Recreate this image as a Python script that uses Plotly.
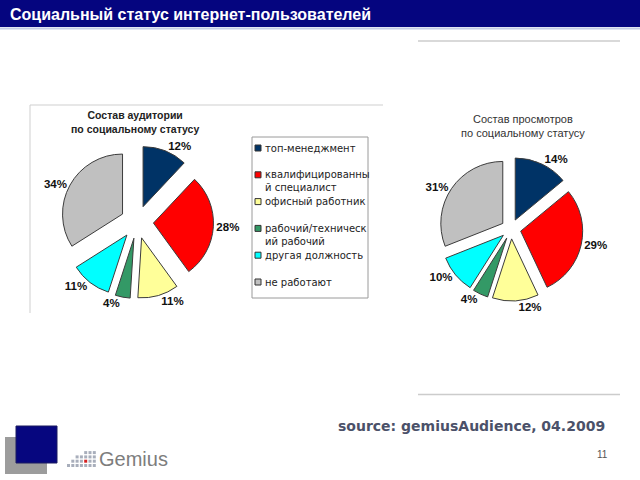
import plotly.graph_objects as go

W, H = 640, 480

# ---------------- data ----------------
categories = ["топ-менеджмент", "квалифицированный специалист", "офисный работник",
              "рабочий/технический рабочий", "другая должность", "не работают"]
legend_labels = ["топ-менеджмент", "квалифицированны<br>й специалист", "офисный работник",
                 "рабочий/техническ<br>ий рабочий", "другая должность", "не работают"]
audience_share = [12, 28, 11, 4, 11, 34]      # Состав аудитории, %
pageviews_share = [14, 29, 12, 4, 10, 31]     # Состав просмотров, %
colors = ["#003366", "#FF0000", "#FFFF99", "#339966", "#00FFFF", "#C0C0C0"]

title_text = "Социальный статус интернет-пользователей"
pie1_title = "Состав аудитории<br>по социальному статусу"
pie2_title = "Состав просмотров<br>по социальному статусу"
source_text = "source: gemiusAudience, 04.2009"
page_number = "11"
logo_text = "Gemius"


def px(x):
    return x / W


def py(y):
    return 1 - y / H


def dom(cx, cy, half):
    return dict(x=[(cx - half) / W, (cx + half) / W],
                y=[1 - (cy + half) / H, 1 - (cy - half) / H])


fig = go.Figure()

label_font = dict(family="Arial", size=11.5, color="#111111", weight="bold")

pull1, r1 = 0.275, 60
pull2, r2 = 0.16, 62

fig.add_trace(go.Pie(
    labels=categories, values=audience_share, sort=False, direction="clockwise",
    rotation=0, pull=pull1,
    marker=dict(colors=colors, line=dict(color="#3c3c3c", width=1)),
    textposition="outside", texttemplate="%{value}%", textfont=label_font,
    domain=dom(137, 222, r1 * (1 + pull1)), showlegend=False,
))
fig.add_trace(go.Pie(
    labels=categories, values=pageviews_share, sort=False, direction="clockwise",
    rotation=0, pull=pull2,
    marker=dict(colors=colors, line=dict(color="#3c3c3c", width=1)),
    textposition="outside", texttemplate="%{value}%", textfont=label_font,
    domain=dom(511, 229, r2 * (1 + pull2)), showlegend=False,
))

shapes = []
annotations = []

# header bar
shapes.append(dict(type="rect", xref="paper", yref="paper", x0=0, x1=1, y0=py(27), y1=1,
                   fillcolor="#05057f", line=dict(width=0), layer="below"))
shapes.append(dict(type="line", xref="paper", yref="paper", x0=0, x1=1, y0=py(28.5), y1=py(28.5),
                   line=dict(color="#c4cce6", width=2)))
annotations.append(dict(text=f"<b>{title_text}</b>", xref="paper", yref="paper",
                        x=px(8), y=py(14.5), xanchor="left", yanchor="middle", showarrow=False,
                        font=dict(family="Arial", size=16, color="white")))

# left chart panel edges
shapes.append(dict(type="line", xref="paper", yref="paper", x0=px(30), x1=px(383), y0=py(105), y1=py(105),
                   line=dict(color="#cfcfcf", width=1)))
shapes.append(dict(type="line", xref="paper", yref="paper", x0=px(30), x1=px(30), y0=py(105), y1=py(313),
                   line=dict(color="#cfcfcf", width=1)))

# right separator lines
for yy in (41, 394.5):
    shapes.append(dict(type="line", xref="paper", yref="paper", x0=px(418), x1=px(620), y0=py(yy), y1=py(yy),
                       line=dict(color="#cccccc", width=1.5)))

# pie titles
annotations.append(dict(text=f"<b>{pie1_title}</b>", xref="paper", yref="paper", x=px(135), y=py(121.5),
                        xanchor="center", yanchor="middle", showarrow=False, align="center",
                        font=dict(family="Arial", size=10.5, color="#222222")))
annotations.append(dict(text=pie2_title, xref="paper", yref="paper", x=px(523), y=py(126),
                        xanchor="center", yanchor="middle", showarrow=False, align="center",
                        font=dict(family="Arial", size=11, color="#333333")))

# legend box (built from the category list)
shapes.append(dict(type="rect", xref="paper", yref="paper", x0=px(252), x1=px(368), y0=py(298), y1=py(137),
                   line=dict(color="#9a9a9a", width=1), fillcolor="white", layer="below"))
step = 26.8
for i, (lab, col) in enumerate(zip(legend_labels, colors)):
    yc = 148 + i * step
    shapes.append(dict(type="rect", xref="paper", yref="paper", x0=px(255), x1=px(261),
                       y0=py(yc + 3), y1=py(yc - 3), fillcolor=col,
                       line=dict(color="#333333", width=1)))
    annotations.append(dict(text=lab, xref="paper", yref="paper", x=px(263), y=py(yc - 7.5),
                            xanchor="left", yanchor="top", showarrow=False, align="left",
                            font=dict(family="DejaVu Sans", size=10, color="#222222")))

# footer: source and page number
annotations.append(dict(text=f"<b>{source_text}</b>", xref="paper", yref="paper", x=px(336), y=py(426),
                        xanchor="left", yanchor="middle", showarrow=False,
                        font=dict(family="DejaVu Sans", size=14, color="#4b5169")))
annotations.append(dict(text=page_number, xref="paper", yref="paper", x=px(602), y=py(454),
                        xanchor="center", yanchor="middle", showarrow=False,
                        font=dict(family="Arial", size=10, color="#555555")))

# logo
shapes.append(dict(type="rect", xref="paper", yref="paper", x0=px(5), x1=px(47), y0=py(474), y1=py(437),
                   fillcolor="#9c9c9c", line=dict(width=0)))
shapes.append(dict(type="rect", xref="paper", yref="paper", x0=px(16), x1=px(57), y0=py(463), y1=py(426),
                   fillcolor="#06067f", line=dict(color="#1a1a60", width=1)))
col_heights = [1, 2, 3, 3, 4, 4, 4]
for c, hgt in enumerate(col_heights):
    for r in range(hgt):
        x0 = 67 + c * 4.3
        y1 = 467 - r * 4.3
        red = (c == 4 and r == 1)
        shapes.append(dict(type="rect", xref="paper", yref="paper", x0=px(x0), x1=px(x0 + 3),
                           y0=py(y1), y1=py(y1 - 3),
                           fillcolor="#d42020" if red else "#a8aebb", line=dict(width=0)))
annotations.append(dict(text=logo_text, xref="paper", yref="paper", x=px(97), y=py(459),
                        xanchor="left", yanchor="middle", showarrow=False,
                        font=dict(family="Arial", size=20, color="#7d7d7d")))

fig.update_layout(
    width=W, height=H, margin=dict(l=0, r=0, t=0, b=0),
    paper_bgcolor="white", plot_bgcolor="white",
    shapes=shapes, annotations=annotations, showlegend=False,
)

fig.write_html("out.html")
